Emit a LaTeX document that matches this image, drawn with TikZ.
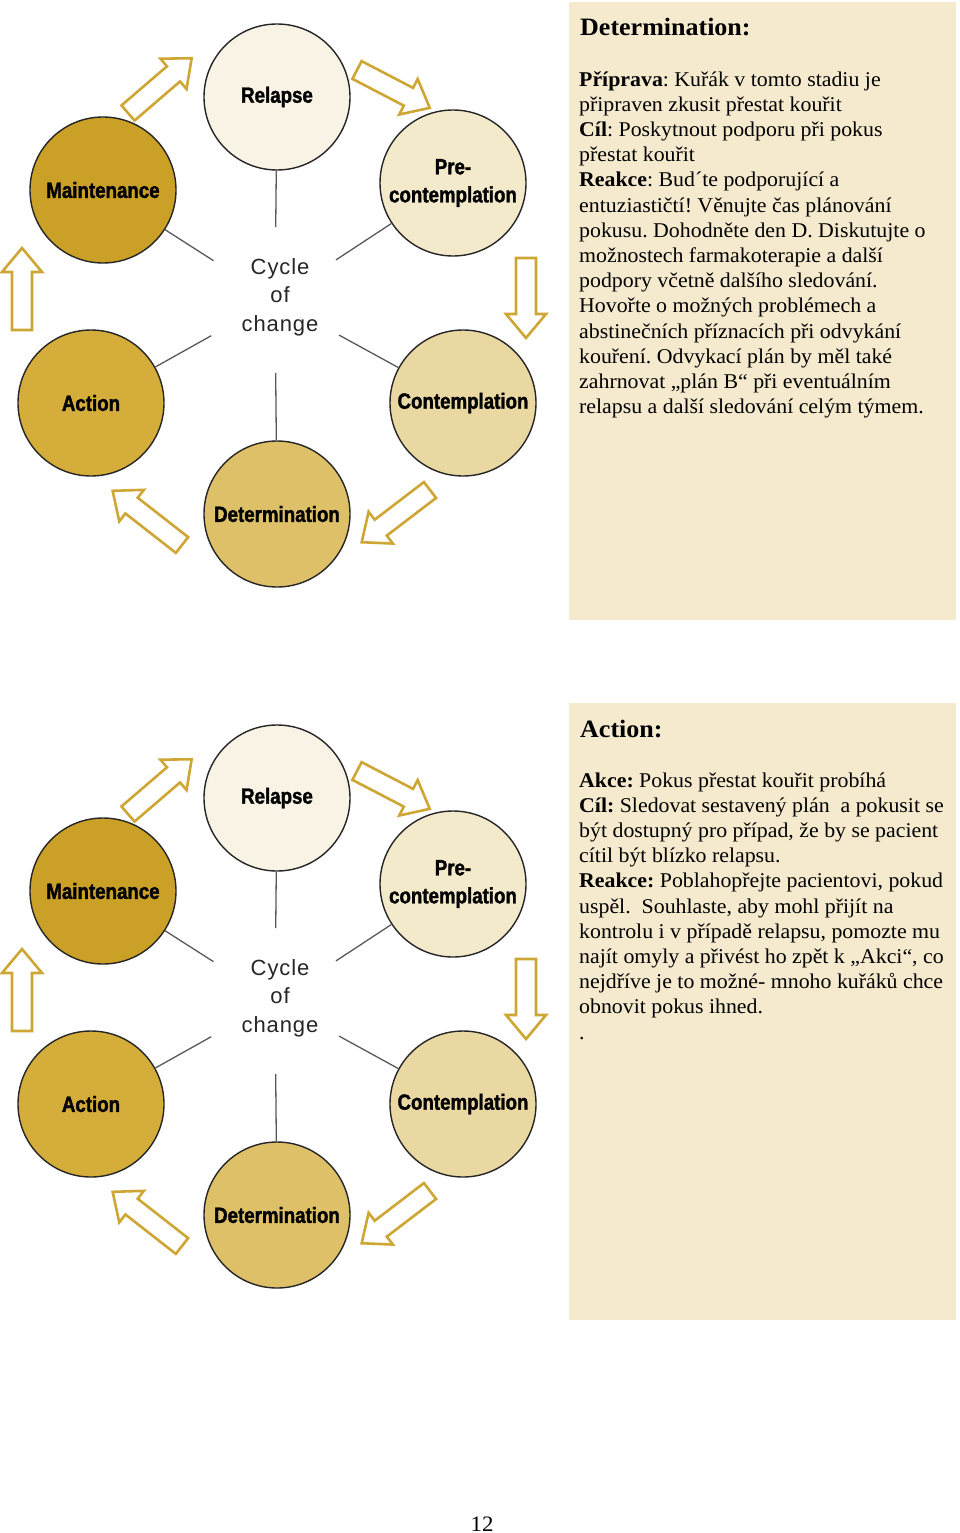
\documentclass[tikz,border=0pt]{standalone}
\usepackage{fontspec}
\setmainfont{Liberation Serif}[FakeStretch=1.04]
\newfontfamily\labfont{Liberation Sans}[FakeStretch=0.85, BoldFeatures={FakeBold=1.5}]
\newfontfamily\cycfont{Liberation Sans}[LetterSpace=4]
\usetikzlibrary{calc}

\definecolor{boxbg}{RGB}{245,234,205}
\definecolor{arrowgold}{RGB}{206,166,52}
\definecolor{cRel}{RGB}{248,243,228}
\definecolor{cPre}{RGB}{243,233,203}
\definecolor{cCon}{RGB}{234,216,162}
\definecolor{cDet}{RGB}{222,192,104}
\definecolor{cAct}{RGB}{212,173,58}
\definecolor{cMai}{RGB}{202,160,38}

\tikzset{
  stage/.style={circle, draw=black!85, line width=1.4pt, minimum size=146pt, inner sep=0pt,
    font=\labfont\bfseries\fontsize{22}{28}\selectfont, align=center},
  spoke/.style={draw=black!65, line width=1.3pt, shorten <=73pt},
  blk/.style={draw=arrowgold, line width=2.6pt, fill=white, line join=miter},
  hubtext/.style={font=\cycfont\fontsize{22}{28.5}\selectfont, text=black!85, align=center, inner sep=0pt},
  bodytext/.style={anchor=base west, align=left, inner sep=0pt, font=\frenchspacing\fontsize{21}{25.2}\selectfont},
  headtext/.style={anchor=base west, inner sep=0pt, font=\bfseries\fontsize{25}{27}\selectfont},
}

% tail x, tail y, angle, length
\newcommand\myblockarrow[4]{%
  \begin{scope}[shift={(#1,#2)}, rotate=#3]
    \draw[blk] (0,-10) -- ({#4-24},-10) -- ({#4-24},-20) -- (#4,0) -- ({#4-24},20) -- ({#4-24},10) -- (0,10) -- cycle;
  \end{scope}}

\newcommand\mycyclediagram{%
  \node[stage, fill=cRel] (rel) at (277,97) {Relapse};
  \node[stage, fill=cPre] (pre) at (453,183) {Pre-\\contemplation};
  \node[stage, fill=cCon] (con) at (463,403) {Contemplation};
  \node[stage, fill=cDet] (det) at (277,514) {Determination};
  \node[stage, fill=cAct] (act) at (91,403) {Action};
  \node[stage, fill=cMai] (mai) at (103,190) {Maintenance};
  \node[hubtext] (cyc) at (280,297) {Cycle\\of\\change};
  \coordinate (hub) at (275,300);
  \draw[spoke] (hub) -- (rel);
  \draw[spoke] (hub) -- (pre);
  \draw[spoke] (hub) -- (con);
  \draw[spoke] (hub) -- (det);
  \draw[spoke] (hub) -- (act);
  \draw[spoke] (hub) -- (mai);
  \myblockarrow{128}{113}{40.7}{84}
  \myblockarrow{357}{70}{-27.5}{82}
  \myblockarrow{526}{258}{-90}{80}
  \myblockarrow{430}{490}{-142.6}{86}
  \myblockarrow{182}{545}{142}{88}
  \myblockarrow{22}{330}{90}{82}
}

\begin{document}
\begin{tikzpicture}[x=1pt, y=-1pt]
  \useasboundingbox (0,0) rectangle (960,1533);
  \fill[white] (0,0) rectangle (960,1533);

  % ---------- first panel ----------
  \fill[boxbg] (569,2) rectangle (956,620);
  \begin{scope}[name prefix=a-]
    \mycyclediagram
  \end{scope}
  \node[headtext] (h1) at (580,36) {Determination:};
  % anchored at the baseline of the last line
  \node[bodytext] (b1) at (579,413.6) {%
    \textbf{Příprava}: Kuřák v tomto stadiu je\\
    připraven zkusit přestat kouřit\\
    \textbf{Cíl}: Poskytnout podporu při pokus\\
    přestat kouřit\\
    \textbf{Reakce}: Bud´te podporující a\\
    entuziastičtí! Věnujte čas plánování\\
    pokusu. Dohodněte den D. Diskutujte o\\
    možnostech farmakoterapie a další\\
    podpory včetně dalšího sledování.\\
    Hovořte o možných problémech a\\
    abstinečních příznacích při odvykání\\
    kouření. Odvykací plán by měl také\\
    zahrnovat „plán B“ při eventuálním\\
    relapsu a další sledování celým týmem.};

  % ---------- second panel ----------
  \fill[boxbg] (569,703) rectangle (956,1320);
  \begin{scope}[shift={(0,701)}, name prefix=b-]
    \mycyclediagram
  \end{scope}
  \node[headtext] (h2) at (580,737) {Action:};
  \node[bodytext] (b2) at (579,1039) {%
    \textbf{Akce:} Pokus přestat kouřit probíhá\\
    \textbf{Cíl:} Sledovat sestavený plán \ a pokusit se\\
    být dostupný pro případ, že by se pacient\\
    cítil být blízko relapsu.\\
    \textbf{Reakce:} Poblahopřejte pacientovi, pokud\\
    uspěl. \ Souhlaste, aby mohl přijít na\\
    kontrolu i v případě relapsu, pomozte mu\\
    najít omyly a přivést ho zpět k „Akci“, co\\
    nejdříve je to možné- mnoho kuřáků chce\\
    obnovit pokus ihned.\\
    .};

  \node[anchor=base, inner sep=0pt, font=\fontsize{22}{24}\selectfont] (pg) at (482,1531) {12};
\end{tikzpicture}
\end{document}
